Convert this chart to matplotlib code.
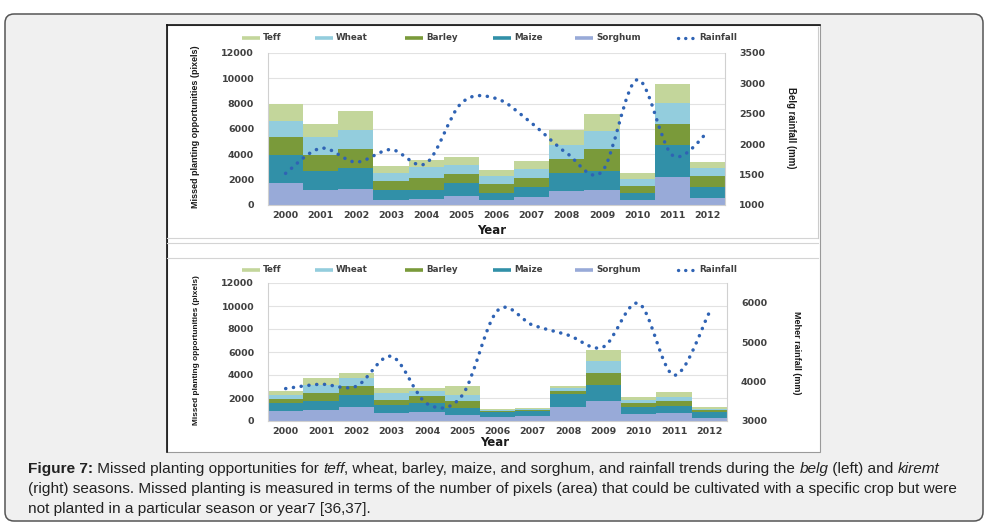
import numpy as np
import matplotlib
matplotlib.use("Agg")
import matplotlib.pyplot as plt
from matplotlib.path import Path
from matplotlib.patches import PathPatch, FancyBboxPatch, Rectangle
from matplotlib.lines import Line2D
from matplotlib.font_manager import FontProperties

W, H = 993, 531

years = [str(y) for y in range(2000, 2013)]
crops = ["Teff", "Wheat", "Barley", "Maize", "Sorghum"]
colors = {"Teff": "#c3d69b", "Wheat": "#93cddd", "Barley": "#7a9a3a",
          "Maize": "#3190a8", "Sorghum": "#98aad8"}
rain_color = "#2f63b4"

# belg season (top chart), pixels per crop
belg_sorghum = [1770, 1190, 1240, 400, 470, 740, 400, 610, 1080, 1160, 400, 2240, 530]
belg_maize = [2210, 1500, 1720, 790, 720, 980, 520, 840, 1430, 1560, 550, 2480, 920]
belg_barley = [1420, 1290, 1500, 740, 950, 730, 740, 690, 1130, 1690, 550, 1670, 850]
belg_wheat = [1270, 1350, 1500, 630, 840, 720, 660, 710, 1110, 1470, 530, 1630, 600]
belg_teff = [1320, 1030, 1480, 550, 580, 630, 450, 660, 1190, 1270, 480, 1560, 480]
belg_rain = [1520, 1934, 1705, 1912, 1687, 2676, 2750, 2346, 1852, 1549, 3060, 1820, 2192]

# kiremt / meher season (bottom chart)
meher_sorghum = [870, 960, 1250, 730, 820, 550, 350, 440, 1220, 1750, 610, 730, 290]
meher_maize = [730, 820, 1050, 640, 750, 590, 440, 430, 1110, 1420, 580, 550, 500]
meher_barley = [350, 670, 730, 490, 590, 610, 80, 90, 290, 1000, 380, 470, 170]
meher_wheat = [290, 670, 670, 590, 460, 490, 60, 60, 230, 1040, 270, 380, 120]
meher_teff = [350, 580, 440, 380, 260, 820, 90, 90, 210, 940, 290, 380, 110]
meher_rain = [3822, 3932, 3881, 4640, 3440, 3650, 5800, 5432, 5178, 4881, 5983, 4161, 5754]


def fx(x):
    return x / W


def fy(y):
    return 1 - y / H


def smooth_path(xs, ys):
    # Excel-like smoothed line: cubic bezier through the data points
    pts = np.column_stack([xs, ys]).astype(float)
    n = len(pts)
    verts = [pts[0]]
    codes = [Path.MOVETO]
    for i in range(n - 1):
        p0 = pts[max(i - 1, 0)]
        p1 = pts[i]
        p2 = pts[i + 1]
        p3 = pts[min(i + 2, n - 1)]
        verts += [p1 + (p2 - p0) / 6, p2 - (p3 - p1) / 6, p2]
        codes += [Path.CURVE4] * 3
    return Path(verts, codes)


fig = plt.figure(figsize=(W / 100, H / 100), dpi=100)
fig.patch.set_facecolor("white")
renderer = fig.canvas.get_renderer()


def fit_text(t, length_px):
    # shrink a rotated label so it spans about length_px
    bb = t.get_window_extent(renderer)
    cur = max(bb.width, bb.height)
    t.set_fontsize(t.get_fontsize() * length_px / cur)


# page frame
fig.add_artist(FancyBboxPatch((5 / 100, (H - 521) / 100), 978 / 100, 507 / 100,
                              boxstyle="round,pad=0,rounding_size=0.09",
                              transform=fig.dpi_scale_trans, facecolor="#f0f0f0",
                              edgecolor="#555555", linewidth=1.1, zorder=0))
fig.add_artist(Rectangle((fx(167), fy(452)), fx(653), 427 / H, transform=fig.transFigure,
                         facecolor="white", edgecolor="#9a9a9a", linewidth=0.8, zorder=0))
fig.add_artist(Line2D([fx(167), fx(167)], [fy(25), fy(452)], color="#111111", lw=1.2))
fig.add_artist(Line2D([fx(167), fx(820)], [fy(25), fy(25)], color="#111111", lw=1.2))
for yy in (238, 243, 258):
    fig.add_artist(Line2D([fx(167), fx(818)], [fy(yy), fy(yy)], color="#d4d4d4", lw=0.8))
fig.add_artist(Line2D([fx(818), fx(818)], [fy(27), fy(238)], color="#cccccc", lw=0.8))

tick_font = dict(family="DejaVu Sans", weight="bold", size=6.8)
label_family = ["Liberation Sans", "DejaVu Sans"]


def draw_chart(rect, data, rain, rlim, rticks, rlabel, rlabel_pos, ylabel_pos, year_pos, legend_y):
    ax = fig.add_axes(rect)
    x = np.arange(len(years))
    bottom = np.zeros(len(years))
    order = ["Sorghum", "Maize", "Barley", "Wheat", "Teff"]
    for crop in order:
        vals = np.array(data[crop])
        ax.bar(x, vals, width=1.0, bottom=bottom, color=colors[crop], edgecolor="none", zorder=2)
        bottom += vals
    ax.set_xlim(-0.5, len(years) - 0.5)
    ax.set_ylim(0, 12000)
    ax.set_yticks(range(0, 12001, 2000))
    ax.set_xticks(x)
    ax.set_xticklabels(years)
    ax.grid(axis="y", color="#e2e2e2", lw=0.8, zorder=0)
    ax.set_axisbelow(True)
    ax.spines["top"].set_visible(False)
    for s in ("left", "right", "bottom"):
        ax.spines[s].set_color("#d0d0d0")
        ax.spines[s].set_linewidth(0.8)
    ax.tick_params(axis="y", length=0, pad=10, colors="#404040")
    ax.tick_params(axis="x", length=0, pad=4, colors="#404040")
    for lab in ax.get_xticklabels() + ax.get_yticklabels():
        lab.set_fontproperties(FontProperties(**tick_font))

    ax2 = ax.twinx()
    ax2.set_ylim(*rlim)
    ax2.set_yticks(rticks)
    ax2.tick_params(axis="y", length=0, pad=10, colors="#404040")
    for lab in ax2.get_yticklabels():
        lab.set_fontproperties(FontProperties(**tick_font))
    for s in ax2.spines.values():
        s.set_visible(False)
    ax2.add_patch(PathPatch(smooth_path(x, rain), fill=False, edgecolor=rain_color,
                            linewidth=2.5, linestyle=(0, (0.05, 2.2)), capstyle="round", zorder=3))

    yl = fig.text(fx(ylabel_pos[0]), fy(ylabel_pos[1]), "Missed planting opportunities (pixels)",
                  rotation=90, ha="center", va="center", fontsize=8, fontweight="bold",
                  family=label_family, color="#1a1a1a")
    fit_text(yl, ylabel_pos[2])
    rl = fig.text(fx(rlabel_pos[0]), fy(rlabel_pos[1]), rlabel, rotation=270, ha="center",
                  va="center", fontsize=8, fontweight="bold", family=label_family,
                  color="#1a1a1a")
    fit_text(rl, rlabel_pos[2])
    fig.text(fx(year_pos[0]), fy(year_pos[1]), "Year", ha="center", va="center",
             fontsize=8.5, fontweight="bold", family="DejaVu Sans", color="#1a1a1a")

    # legend
    items = [("Teff", 242), ("Wheat", 315), ("Barley", 405), ("Maize", 493),
             ("Sorghum", 575), ("Rainfall", 678)]
    for name, lx in items:
        if name == "Rainfall":
            fig.add_artist(Line2D([fx(lx), fx(lx + 20)], [fy(legend_y), fy(legend_y)],
                                  color=rain_color, lw=2.4, linestyle=(0, (0.05, 2.1)),
                                  dash_capstyle="round"))
        else:
            fig.add_artist(Line2D([fx(lx), fx(lx + 18)], [fy(legend_y), fy(legend_y)],
                                  color=colors[name], lw=2.6, solid_capstyle="butt"))
        fig.text(fx(lx + 21), fy(legend_y), name, ha="left", va="center",
                 fontsize=6.3, fontweight="bold", family="DejaVu Sans", color="#404040")
    return ax


top_data = {"Teff": belg_teff, "Wheat": belg_wheat, "Barley": belg_barley,
            "Maize": belg_maize, "Sorghum": belg_sorghum}
bot_data = {"Teff": meher_teff, "Wheat": meher_wheat, "Barley": meher_barley,
            "Maize": meher_maize, "Sorghum": meher_sorghum}

draw_chart([fx(268), fy(205), 457 / W, 152 / H], top_data, belg_rain, (1000, 3500),
           range(1000, 3501, 500), "Belg rainfall (mm)", (791, 128, 82), (196, 127, 162),
           (492, 230), 38)
draw_chart([fx(268), fy(421), 459 / W, 138 / H], bot_data, meher_rain, (3000, 6500),
           range(3000, 6001, 1000), "Meher rainfall (mm)", (797, 353, 84), (196, 350, 150),
           (495, 442), 270)

# caption with mixed styles
cap_lines = [
    [("Figure 7:", "normal", "bold"), (" Missed planting opportunities for ", "normal", "normal"),
     ("teff", "italic", "normal"),
     (", wheat, barley, maize, and sorghum, and rainfall trends during the ", "normal", "normal"),
     ("belg", "italic", "normal"), (" (left) and ", "normal", "normal"), ("kiremt", "italic", "normal")],
    [("(right) seasons. Missed planting is measured in terms of the number of pixels (area) "
      "that could be cultivated with a specific crop but were", "normal", "normal")],
    [("not planted in a particular season or year7 [36,37].", "normal", "normal")],
]
cap_y = [469, 489, 509]
for line, yy in zip(cap_lines, cap_y):
    prev = None
    for txt, style, weight in line:
        kw = dict(fontsize=11.1, family="Liberation Sans", style=style, weight=weight, color="#222222")
        if prev is None:
            prev = fig.text(fx(28), fy(yy), txt, ha="left", va="center", **kw)
        else:
            prev = fig.add_artist(matplotlib.text.Annotation(txt, xy=(1, 0), xycoords=prev,
                                                            ha="left", va="bottom", **kw))

fig.savefig("out.png", dpi=100, facecolor=fig.get_facecolor())
